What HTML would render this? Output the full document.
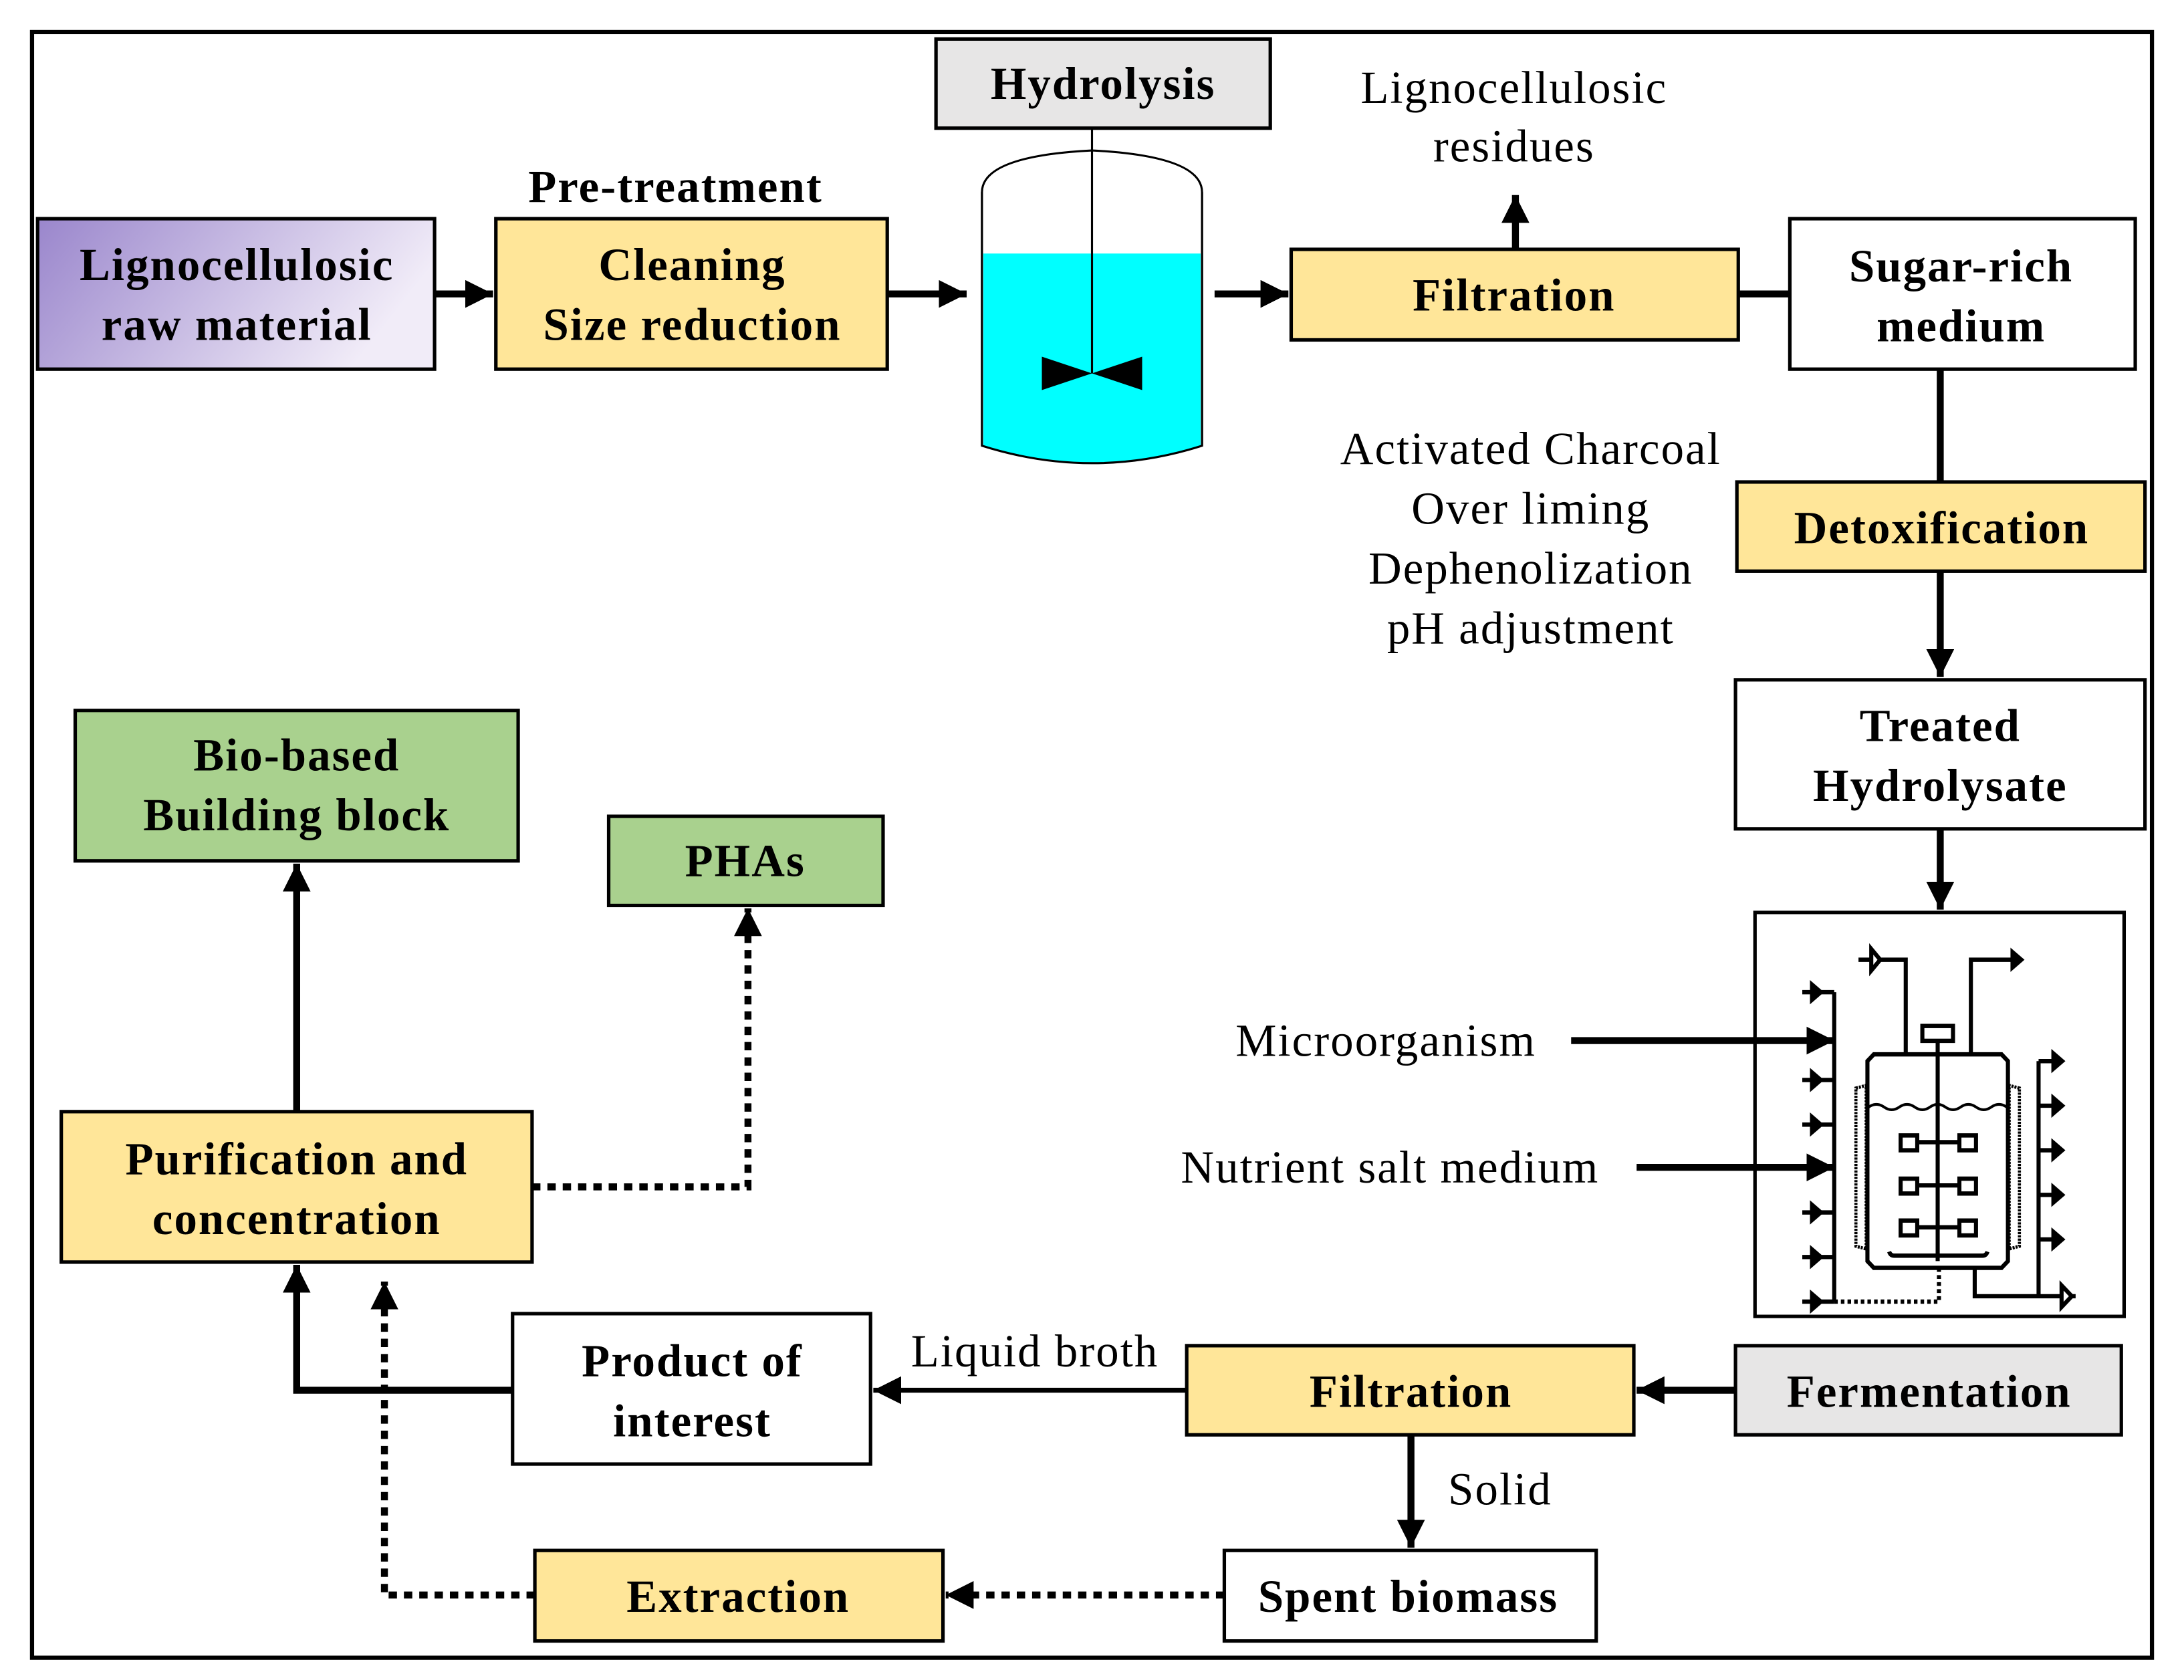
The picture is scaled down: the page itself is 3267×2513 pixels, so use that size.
<!DOCTYPE html>
<html><head><meta charset="utf-8"><style>
html,body{margin:0;padding:0;background:#fff;}
svg{display:block;}
text{font-family:"Liberation Serif",serif;fill:#000;letter-spacing:1px;}
.b{font-weight:bold;font-size:33px;}
.r{font-size:33px;}
</style></head><body>
<svg width="3267" height="2513" viewBox="0 0 1568 1206" preserveAspectRatio="none" xmlns="http://www.w3.org/2000/svg">
<defs>
<linearGradient id="pg" x1="0" y1="0" x2="1" y2="0.3">
<stop offset="0" stop-color="#9a86cc"/><stop offset="1" stop-color="#f1ecf8"/>
</linearGradient>
<marker id="a" markerUnits="userSpaceOnUse" markerWidth="24" markerHeight="24" refX="20" refY="10" orient="auto">
<path d="M0,0 L20,10 L0,20 Z" fill="#000"/></marker>
</defs>
<rect width="1568" height="1206" fill="#fff"/>
<rect x="23" y="23" width="1522" height="1167" fill="none" stroke="#000" stroke-width="3"/>

<g stroke="#000" stroke-width="2.5">
<rect x="27" y="157" width="285" height="108" fill="url(#pg)"/>
<rect x="356" y="157" width="281" height="108" fill="#ffe699"/>
<rect x="672" y="28" width="240" height="64" fill="#e7e6e6"/>
<rect x="927" y="179" width="321" height="65" fill="#ffe699"/>
<rect x="1285" y="157" width="248" height="108" fill="#fff"/>
<rect x="1247" y="346" width="293" height="64" fill="#ffe699"/>
<rect x="1246" y="488" width="294" height="107" fill="#fff"/>
<rect x="1260" y="655" width="265" height="290" fill="#fff"/>
<rect x="1246" y="966" width="277" height="64" fill="#e7e6e6"/>
<rect x="852" y="966" width="321" height="64" fill="#ffe699"/>
<rect x="368" y="943" width="257" height="108" fill="#fff"/>
<rect x="879" y="1113" width="267" height="65" fill="#fff"/>
<rect x="384" y="1113" width="293" height="65" fill="#ffe699"/>
<rect x="44" y="798" width="338" height="108" fill="#ffe699"/>
<rect x="54" y="510" width="318" height="108" fill="#a9d18e"/>
<rect x="437" y="586" width="197" height="64" fill="#a9d18e"/>
</g>

<path d="M705,320 L705,138 Q705,112 784,108 Q863,112 863,138 L863,320" fill="#fff" stroke="#000" stroke-width="1.5"/>
<path d="M706,182 L862,182 L862,320 Q784,345 706,320 Z" fill="#00ffff"/>
<path d="M705,138 L705,320 Q784,345 863,320 L863,138" fill="none" stroke="#000" stroke-width="1.5"/>
<line x1="784" y1="92" x2="784" y2="268" stroke="#000" stroke-width="1.5"/>
<path d="M748,256 L784,268 L748,280 Z M820,256 L784,268 L820,280 Z" fill="#000"/>

<g stroke="#000" stroke-width="5" fill="none">
<line x1="312" y1="211" x2="354" y2="211" marker-end="url(#a)"/>
<line x1="637" y1="211" x2="694" y2="211" marker-end="url(#a)"/>
<line x1="872" y1="211" x2="925" y2="211" marker-end="url(#a)"/>
<line x1="1088" y1="179" x2="1088" y2="140" marker-end="url(#a)"/>
<line x1="1248" y1="211" x2="1285" y2="211"/>
<line x1="1393" y1="265" x2="1393" y2="346"/>
<line x1="1393" y1="410" x2="1393" y2="486" marker-end="url(#a)"/>
<line x1="1393" y1="595" x2="1393" y2="653" marker-end="url(#a)"/>
<line x1="1128" y1="747" x2="1317" y2="747" marker-end="url(#a)"/>
<line x1="1175" y1="838" x2="1317" y2="838" marker-end="url(#a)"/>
<line x1="1246" y1="998" x2="1175" y2="998" marker-end="url(#a)"/>
<line x1="852" y1="998" x2="627" y2="998" stroke-width="3.5" marker-end="url(#a)"/>
<line x1="1013" y1="1030" x2="1013" y2="1111" marker-end="url(#a)"/>
<polyline points="368,998 213,998 213,908" marker-end="url(#a)"/>
<line x1="213" y1="798" x2="213" y2="620" marker-end="url(#a)"/>
<g stroke-dasharray="6,5">
<line x1="879" y1="1145" x2="679" y2="1145" marker-end="url(#a)"/>
<polyline points="384,1145 276,1145 276,920" marker-end="url(#a)"/>
<polyline points="382,852 537,852 537,652" marker-end="url(#a)"/>
</g>
</g>

<g transform="translate(1248.1,649.2) scale(0.1834,0.194)" stroke="#000" stroke-width="16" fill="none">
<line x1="375" y1="325" x2="375" y2="1470"/>
<g>
<line x1="250" y1="325" x2="375" y2="325"/><line x1="250" y1="650" x2="375" y2="650"/>
<line x1="250" y1="815" x2="375" y2="815"/><line x1="250" y1="1140" x2="375" y2="1140"/>
<line x1="250" y1="1305" x2="375" y2="1305"/><line x1="250" y1="1470" x2="375" y2="1470"/>
</g>
<g fill="#000" stroke="none">
<path d="M280,280 L335,325 L280,370Z M280,605 L335,650 L280,695Z M280,770 L335,815 L280,860Z M280,1095 L335,1140 L280,1185Z M280,1260 L335,1305 L280,1350Z M280,1425 L335,1470 L280,1515Z"/>
<path d="M1225,535 L1280,580 L1225,625Z M1225,700 L1280,745 L1225,790Z M1225,865 L1280,910 L1225,955Z M1225,1030 L1280,1075 L1225,1120Z M1225,1195 L1280,1240 L1225,1285Z"/>
<path d="M1065,160 L1120,205 L1065,250Z"/>
</g>
<polyline points="375,1470 785,1470 785,1340" stroke-dasharray="14,12"/>
<path d="M530,555 L1030,555 L1055,580 L1055,1320 L1030,1345 L530,1345 L505,1320 L505,580 Z"/>
<path d="M460,680 L500,670 L500,1275 L460,1265 Z M1100,680 L1060,670 L1060,1275 L1100,1265 Z" stroke-width="12" stroke-dasharray="8,4"/>
<path d="M510,750 q30,-20 60,0 t60,0 t60,0 t60,0 t60,0 t60,0 t60,0 t60,0 t60,0" stroke-width="10"/>
<line x1="780" y1="505" x2="780" y2="1320"/>
<rect x="720" y="450" width="120" height="55"/>
<line x1="700" y1="880" x2="865" y2="880"/><line x1="700" y1="1040" x2="865" y2="1040"/><line x1="700" y1="1195" x2="865" y2="1195"/>
<rect x="635" y="855" width="65" height="55"/><rect x="865" y="855" width="65" height="55"/>
<rect x="635" y="1015" width="65" height="55"/><rect x="865" y="1015" width="65" height="55"/>
<rect x="635" y="1170" width="65" height="55"/><rect x="865" y="1170" width="65" height="55"/>
<path d="M590,1285 Q595,1300 610,1300 L955,1300 Q970,1300 975,1285"/>
<polyline points="655,555 655,205 470,205"/>
<path d="M520,165 L555,205 L520,245 Z" fill="#fff"/>
<polyline points="910,555 910,205 1070,205"/>
<polyline points="1175,580 1175,1450"/>
<line x1="1175" y1="580" x2="1230" y2="580"/><line x1="1175" y1="745" x2="1230" y2="745"/>
<line x1="1175" y1="910" x2="1230" y2="910"/><line x1="1175" y1="1075" x2="1230" y2="1075"/>
<line x1="1175" y1="1240" x2="1230" y2="1240"/>
<polyline points="925,1345 925,1450 1320,1450"/>
<path d="M1265,1410 L1305,1450 L1265,1490 Z" fill="#fff"/>
</g>

<g text-anchor="middle">
<text class="b" x="170" y="201">Lignocellulosic</text>
<text class="b" x="170" y="244">raw material</text>
<text class="b" x="485" y="145">Pre-treatment</text>
<text class="b" x="497" y="201">Cleaning</text>
<text class="b" x="497" y="244">Size reduction</text>
<text class="b" x="792" y="71">Hydrolysis</text>
<text class="r" x="1087" y="74">Lignocellulosic</text>
<text class="r" x="1087" y="116">residues</text>
<text class="b" x="1087" y="223">Filtration</text>
<text class="b" x="1408" y="202">Sugar-rich</text>
<text class="b" x="1408" y="245">medium</text>
<text class="r" x="1099" y="333">Activated Charcoal</text>
<text class="r" x="1099" y="376">Over liming</text>
<text class="r" x="1099" y="419">Dephenolization</text>
<text class="r" x="1099" y="462">pH adjustment</text>
<text class="b" x="1394" y="390">Detoxification</text>
<text class="b" x="1393" y="532">Treated</text>
<text class="b" x="1393" y="575">Hydrolysate</text>
<text class="r" x="995" y="758">Microorganism</text>
<text class="r" x="998" y="849">Nutrient salt medium</text>
<text class="b" x="1385" y="1010">Fermentation</text>
<text class="b" x="1013" y="1010">Filtration</text>
<text class="r" x="743" y="981">Liquid broth</text>
<text class="b" x="497" y="988">Product of</text>
<text class="b" x="497" y="1031">interest</text>
<text class="r" x="1077" y="1080">Solid</text>
<text class="b" x="1011" y="1157">Spent biomass</text>
<text class="b" x="530" y="1157">Extraction</text>
<text class="b" x="213" y="843">Purification and</text>
<text class="b" x="213" y="886">concentration</text>
<text class="b" x="213" y="553">Bio-based</text>
<text class="b" x="213" y="596">Building block</text>
<text class="b" x="535" y="629">PHAs</text>
</g>
</svg>
</body></html>
